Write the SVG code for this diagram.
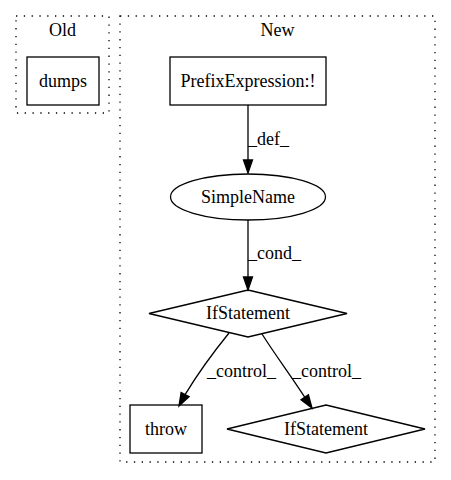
<svg xmlns="http://www.w3.org/2000/svg" width="451" height="480" viewBox="0 0 451 480">
<style>
text{font-family:"Liberation Serif","Times New Roman",serif;font-size:18px;fill:#000}
.cl{fill:none;stroke:#000;stroke-width:1.3;stroke-dasharray:1.3,6.5}
.n{fill:none;stroke:#000;stroke-width:1.3}
.e{fill:none;stroke:#000;stroke-width:1.3}
.ah{fill:#000;stroke:#000;stroke-width:1.3}
</style>
<rect width="451" height="480" fill="#fff"/>
<g id="cluster_old">
<rect class="cl" x="16" y="16" width="93" height="97"/>
<text x="62.5" y="36" text-anchor="middle">Old</text>
</g>
<g id="cluster_new">
<rect class="cl" x="120" y="16" width="315" height="446"/>
<text x="277.5" y="36" text-anchor="middle">New</text>
</g>
<g id="dumps">
<rect class="n" x="27" y="57" width="72" height="48"/>
<text x="63" y="86.5" text-anchor="middle">dumps</text>
</g>
<g id="prefix">
<rect class="n" x="170" y="57" width="156" height="48"/>
<text x="248" y="86.5" text-anchor="middle">PrefixExpression:!</text>
</g>
<g id="simplename">
<ellipse class="n" cx="248" cy="197" rx="77.5" ry="23"/>
<text x="248" y="202.5" text-anchor="middle">SimpleName</text>
</g>
<g id="if1">
<polygon class="n" points="248,290 347,313.5 248,337 149,313.5"/>
<text x="248" y="319" text-anchor="middle">IfStatement</text>
</g>
<g id="throw">
<rect class="n" x="130" y="405" width="72" height="48"/>
<text x="166" y="434.5" text-anchor="middle">throw</text>
</g>
<g id="if2">
<polygon class="n" points="326,405 425,429 326,453 227,429"/>
<text x="326" y="434.5" text-anchor="middle">IfStatement</text>
</g>
<g id="edges">
<path class="e" d="M248,105 L248,160"/>
<polygon class="ah" points="243.5,160 248,173 252.5,160"/>
<text x="248" y="145">_def_</text>
<path class="e" d="M248,220 L248,277"/>
<polygon class="ah" points="243.5,277 248,290 252.5,277"/>
<text x="248" y="259">_cond_</text>
<path class="e" d="M229,333 C216,349 200,370 185.1,394.6"/>
<polygon class="ah" points="181.1,392.5 179,406 189.1,396.7"/>
<text x="207" y="377">_control_</text>
<path class="e" d="M262,334 C276,356 291,376 304.7,397.2"/>
<polygon class="ah" points="308.4,394.7 312,408 301,399.7"/>
<text x="292" y="377">_control_</text>
</g>
</svg>
